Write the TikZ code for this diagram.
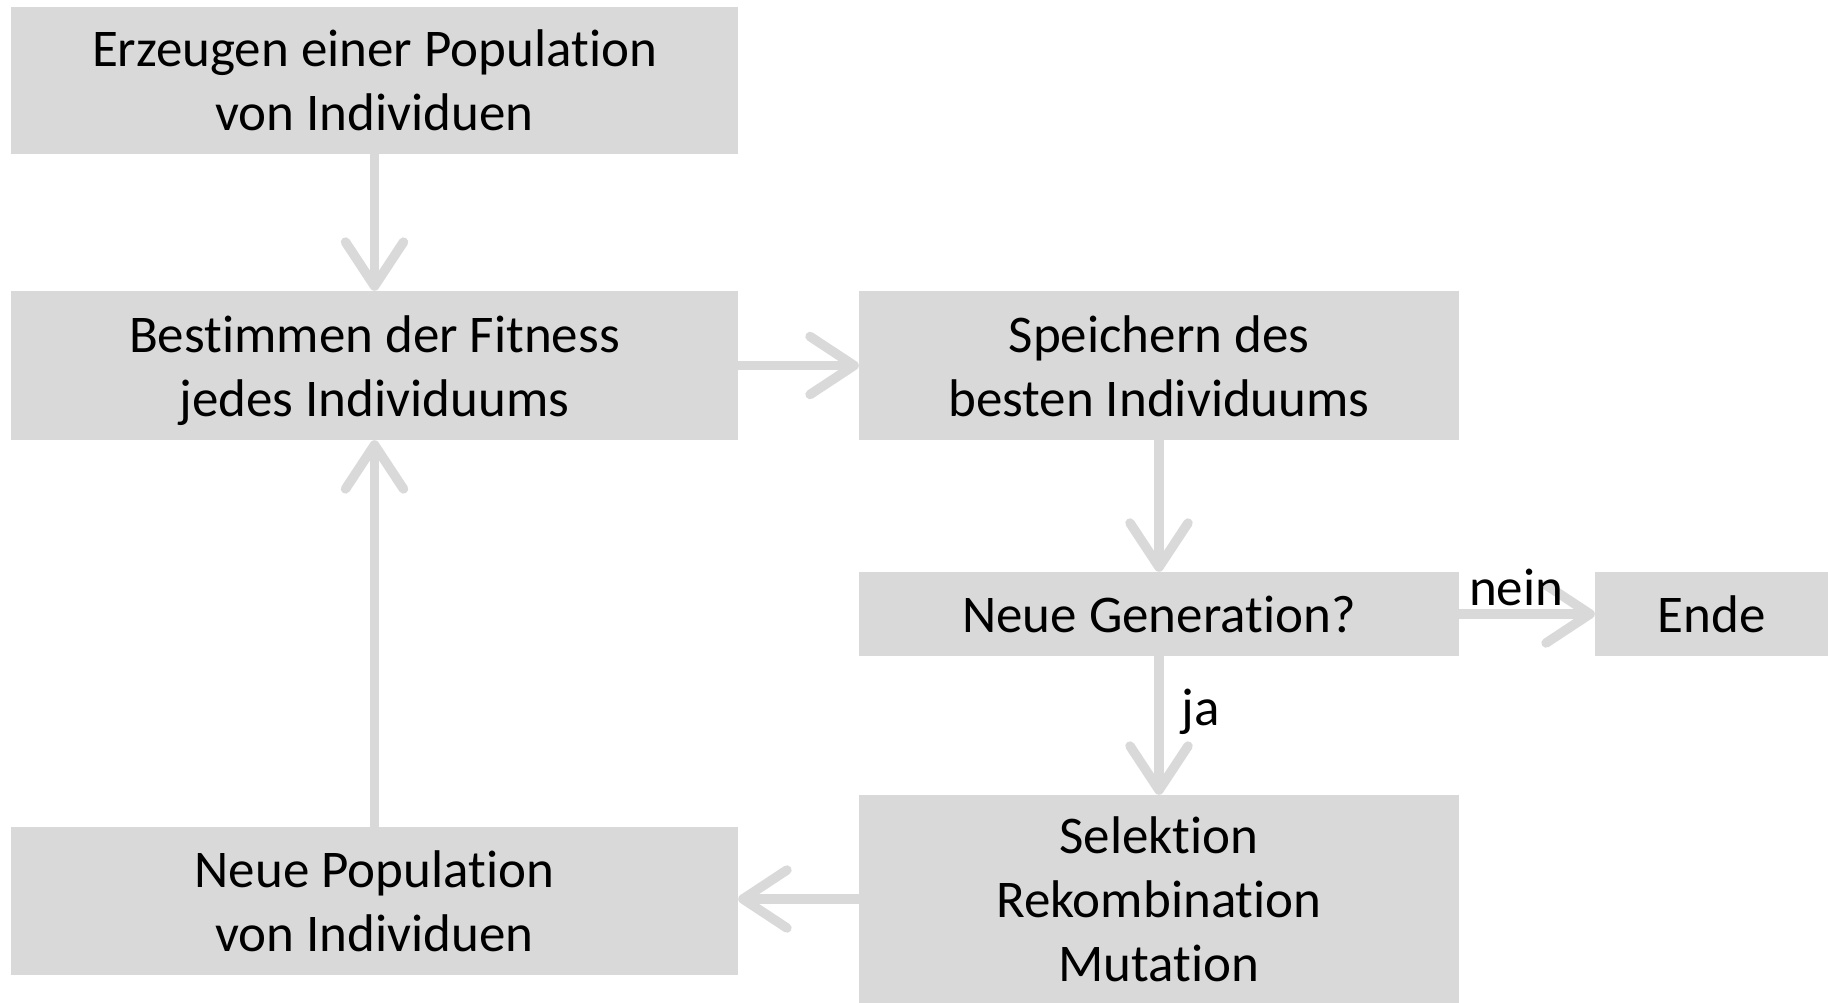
\documentclass[tikz,border=0pt]{standalone}
\usepackage{fontspec}
\setmainfont{Carlito}[Ligatures={NoCommon}]
\usetikzlibrary{arrows.meta}
\definecolor{boxgray}{HTML}{D9D9D9}
\newcommand\tstr{\rule{0pt}{50.5pt}}
\newcommand\bstr{\rule[-13.5pt]{0pt}{13.5pt}}
\begin{document}
\begin{tikzpicture}[x=1pt,y=-1pt,
  box/.style={fill=boxgray, draw=none, align=center, inner sep=0pt, text=black, font=\fontsize{53}{64}\selectfont},
  conn/.style={draw=boxgray, line width=9.5pt, -{Straight Barb[length=44pt,width=58pt,round]}},
  lbl/.style={inner sep=0pt, text=black, font=\fontsize{53}{64}\selectfont}]
\useasboundingbox (0,0) rectangle (1828,1003);
\node[box, minimum width=727pt, minimum height=147pt] (pop) at (374.5,80.5) {\tstr Erzeugen einer Population\\von Individuen\bstr};
\node[box, minimum width=727pt, minimum height=149pt] (fit) at (374.5,365.5) {\tstr Bestimmen der Fitness\\jedes Individuums\bstr};
\node[box, minimum width=600pt, minimum height=149pt] (save) at (1159,365.5) {\tstr Speichern des\\besten Individuums\bstr};
\node[box, minimum width=600pt, minimum height=84pt] (gen) at (1159,614) {\tstr Neue Generation?\bstr};
\node[box, minimum width=233pt, minimum height=84pt] (ende) at (1711.5,614) {\tstr Ende\bstr};
\node[box, minimum width=600pt, minimum height=208pt] (sel) at (1159,899) {\tstr Selektion\\Rekombination\\Mutation\bstr};
\node[box, minimum width=727pt, minimum height=148pt] (newpop) at (374.5,901) {\tstr Neue Population\\von Individuen\bstr};
\draw[conn] (pop) -- (fit);
\draw[conn] (fit.east) -- (save.west);
\draw[conn] (save) -- (gen);
\draw[conn] (gen) -- node[lbl, pos=0.42, anchor=base, yshift=9pt] {nein} (ende);
\draw[conn] (gen) -- node[lbl, pos=0.5, anchor=base west, xshift=18pt] {ja} (sel);
\draw[conn] (sel.west) -- (sel.west -| newpop.east);
\draw[conn] (newpop) -- (fit);
\end{tikzpicture}
\end{document}
